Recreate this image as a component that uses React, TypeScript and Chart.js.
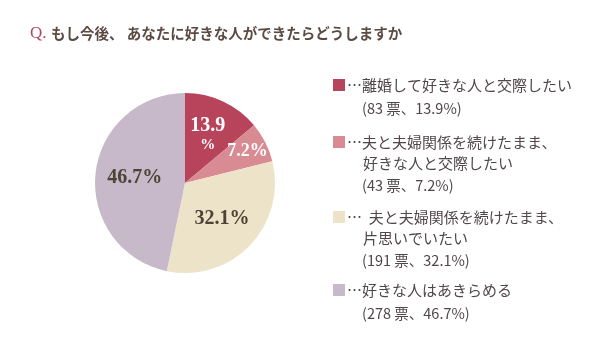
import React, { useEffect, useRef } from "react";
import { Chart, registerables } from "chart.js";

Chart.register(...registerables);

const title = "もし今後、 あなたに好きな人ができたらどうしますか";
const categories = [
  ["…離婚して好きな人と交際したい"],
  ["…夫と夫婦関係を続けたまま、", "好きな人と交際したい"],
  ["…  夫と夫婦関係を続けたまま、", "片思いでいたい"],
  ["…好きな人はあきらめる"],
];
const votes = [83, 43, 191, 278];
const percents = [13.9, 7.2, 32.1, 46.7];
const colors = ["#b8445c", "#d98b94", "#ede3c8", "#c7b9c9"];
const labelColors = ["#ffffff", "#ffffff", "#4f4236", "#4f4236"];

export default function App() {
  const ref = useRef<HTMLCanvasElement>(null);
  useEffect(() => {
    const canvas = ref.current!;
    const overlay = {
      id: "overlay",
      afterDraw(chart: any) {
        const ctx = chart.ctx as CanvasRenderingContext2D;
        ctx.save();
        // title
        ctx.textBaseline = "middle";
        ctx.textAlign = "left";
        ctx.fillStyle = "#b0485e";
        ctx.font = "17px 'Liberation Serif', serif";
        ctx.fillText("Q.", 30, 34);
        ctx.fillStyle = "#5a4a42";
        ctx.font = "bold 14.5px 'Noto Sans CJK JP'";
        ctx.fillText(title, 51, 33);

        // pie labels
        const meta = chart.getDatasetMeta(0);
        const fr = [0.6, 0.78, 0.57, 0.56];
        meta.data.forEach((arc: any, i: number) => {
          const p = arc.getProps(["x", "y", "startAngle", "endAngle", "outerRadius"], true);
          const mid = (p.startAngle + p.endAngle) / 2;
          const r = p.outerRadius * fr[i];
          const x = p.x + Math.cos(mid) * r;
          const y = p.y + Math.sin(mid) * r;
          ctx.fillStyle = labelColors[i];
          ctx.textAlign = "center";
          const txt = percents[i].toFixed(1) + "%";
          if (i === 0) {
            ctx.font = "bold 20px 'Liberation Serif', serif";
            ctx.fillText(percents[i].toFixed(1), x, y - 8);
            ctx.font = "bold 15px 'Liberation Serif', serif";
            ctx.fillText("%", x, y + 11);
          } else {
            ctx.font = i === 1 ? "bold 18px 'Liberation Serif', serif" : "bold 20px 'Liberation Serif', serif";
            ctx.fillText(txt, x, y);
          }
        });

        // legend
        const blockY = [85, 142, 217, 290];
        ctx.textAlign = "left";
        categories.forEach((lines, i) => {
          const y0 = blockY[i];
          ctx.fillStyle = colors[i];
          ctx.fillRect(333, y0 - 6, 12, 12);
          ctx.fillStyle = "#51474a";
          ctx.font = "15px 'Noto Sans CJK JP'";
          lines.forEach((l, j) => {
            ctx.fillText(l, j === 0 ? 347 : 363, y0 + j * 21);
          });
          const yl = y0 + lines.length * 21 + (lines.length === 1 ? 2 : 1);
          ctx.font = "14.5px 'Noto Sans CJK JP'";
          ctx.fillText("(" + votes[i] + " 票、" + percents[i] + "%)", 362, yl);
        });
        ctx.restore();
      },
    };
    const chart = new Chart(canvas, {
      type: "pie",
      data: {
        labels: categories.map((c) => c.join("")),
        datasets: [
          {
            data: percents,
            backgroundColor: colors,
            borderWidth: 0,
          },
        ],
      },
      options: {
        animation: false,
        responsive: false,
        layout: { padding: { left: 95, top: 93, right: 340, bottom: 67 } },
        plugins: { legend: { display: false }, tooltip: { enabled: false } },
      },
      plugins: [overlay],
    });
    return () => chart.destroy();
  }, []);
  return (
    <div style={{ position: "fixed", left: 0, top: 0, width: 615, height: 340, background: "#fff" }}>
      <canvas ref={ref} width={615} height={340} style={{ width: 615, height: 340 }} />
    </div>
  );
}
